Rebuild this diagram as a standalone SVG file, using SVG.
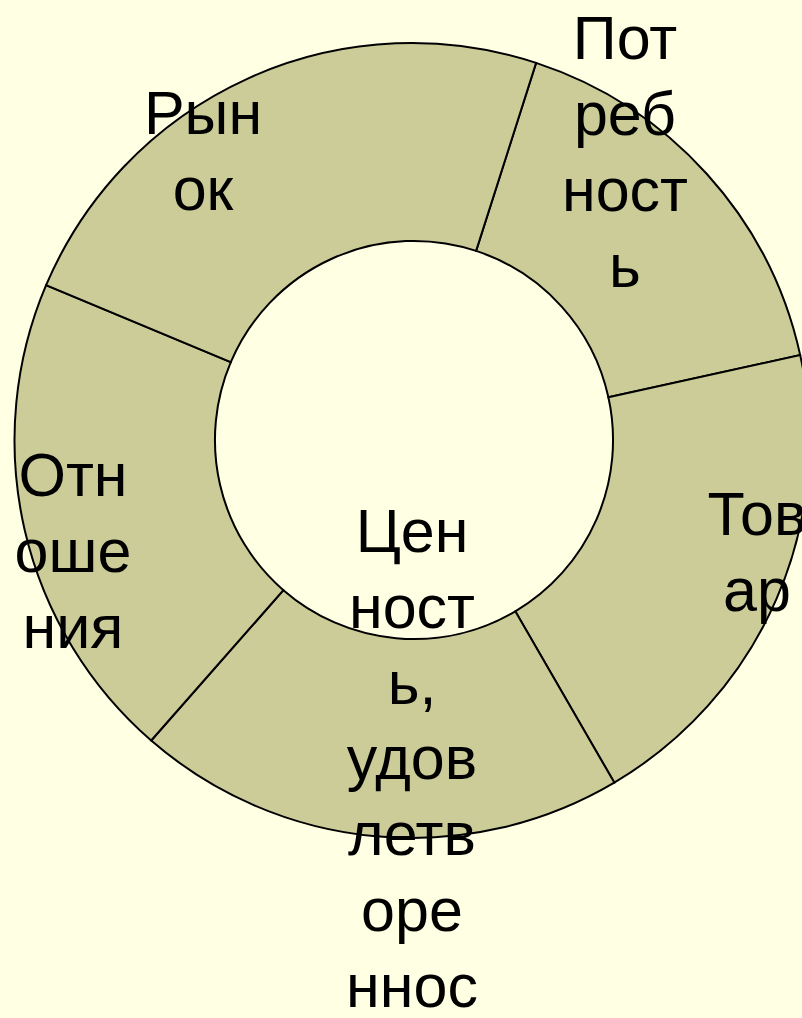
<svg xmlns="http://www.w3.org/2000/svg" width="802" height="1018" viewBox="0 0 802 1018">
<style>
.seg{fill:#CCCC99;stroke:#000;stroke-width:2}
.lbl{font-family:"Liberation Sans",Arial,sans-serif;font-size:61px;fill:#000;text-anchor:middle}
</style>
<rect width="802" height="1018" fill="#FFFFE3"/>
<g id="connectors"></g>
<g id="node-potrebnost">
<path class="seg" d="M536.1,62.9 A397.5,397.5 0 0 1 800.2,355.1 L608.4,397.3 A199,199 0 0 0 476.1,250.9 Z"/>
</g>
<g id="node-tovar">
<path class="seg" d="M800.2,355.1 A397.5,397.5 0 0 1 614.3,782.6 L515.3,611.3 A199,199 0 0 0 608.4,397.3 Z"/>
</g>
<g id="node-tsennost">
<path class="seg" d="M614.3,782.6 A397.5,397.5 0 0 1 151.2,740.5 L283.4,590.2 A199,199 0 0 0 515.3,611.3 Z"/>
</g>
<g id="node-otnosheniya">
<path class="seg" d="M151.2,740.5 A397.5,397.5 0 0 1 46.1,285.2 L230.8,362.2 A199,199 0 0 0 283.4,590.2 Z"/>
</g>
<g id="node-rynok">
<path class="seg" d="M46.1,285.2 A397.5,397.5 0 0 1 536.1,62.9 L476.1,250.9 A199,199 0 0 0 230.8,362.2 Z"/>
</g>
<g id="labels">
<text class="lbl" x="625" y="59">Пот</text>
<text class="lbl" x="625" y="135">реб</text>
<text class="lbl" x="625" y="211">ност</text>
<text class="lbl" x="625" y="287">ь</text>
<text class="lbl" x="757" y="535">Тов</text>
<text class="lbl" x="757" y="611">ар</text>
<text class="lbl" x="412" y="552">Цен</text>
<text class="lbl" x="412" y="628">ност</text>
<text class="lbl" x="412" y="704">ь,</text>
<text class="lbl" x="412" y="779">удов</text>
<text class="lbl" x="412" y="855">летв</text>
<text class="lbl" x="412" y="931">оре</text>
<text class="lbl" x="412" y="1007">ннос</text>
<text class="lbl" x="73" y="496">Отн</text>
<text class="lbl" x="73" y="572">оше</text>
<text class="lbl" x="73" y="648">ния</text>
<text class="lbl" x="203" y="134">Рын</text>
<text class="lbl" x="203" y="210">ок</text>
</g>
</svg>
